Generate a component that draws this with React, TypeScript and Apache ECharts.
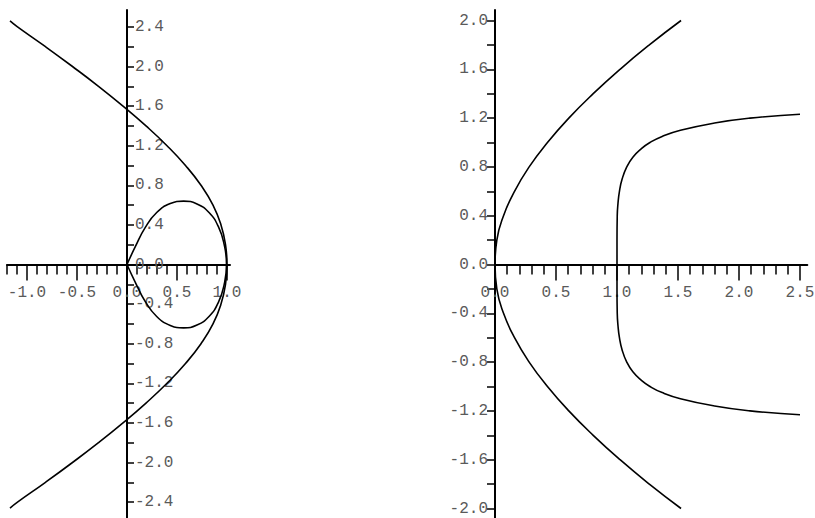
import React, { useEffect, useRef } from "react";
import * as echarts from "echarts";

// ---- Left panel: open curve through (1, 0) and the closed loop ----
const leftOuter: [number, number][] = [
  [-1.17, -2.46], [-1.095, -2.4], [-0.815, -2.2], [-0.545, -2.0], [-0.285, -1.8],
  [-0.04, -1.6], [0.19, -1.4], [0.4, -1.2], [0.585, -1.0], [0.74, -0.8],
  [0.86, -0.6], [0.94, -0.4], [0.985, -0.2], [1.0, 0.0], [0.985, 0.2],
  [0.94, 0.4], [0.86, 0.6], [0.74, 0.8], [0.585, 1.0], [0.4, 1.2],
  [0.19, 1.4], [-0.04, 1.6], [-0.285, 1.8], [-0.545, 2.0], [-0.815, 2.2],
  [-1.095, 2.4], [-1.17, 2.46],
];

const leftLoop: [number, number][] = [
  [0.0, 0.0], [0.083, 0.18], [0.183, 0.375], [0.297, 0.525], [0.433, 0.615],
  [0.566, 0.64], [0.7, 0.612], [0.82, 0.525], [0.915, 0.38], [0.972, 0.2],
  [0.995, 0.0], [0.972, -0.2], [0.915, -0.38], [0.82, -0.525], [0.7, -0.612],
  [0.566, -0.64], [0.433, -0.615], [0.297, -0.525], [0.183, -0.375], [0.083, -0.18],
  [0.0, 0.0],
];

// ---- Right panel: curve through the origin and curve through (1, 0) ----
const rightInner: [number, number][] = [
  [1.525, -2.0], [1.265, -1.8], [1.025, -1.6], [0.805, -1.4], [0.605, -1.2],
  [0.43, -1.0], [0.28, -0.8], [0.16, -0.6], [0.07, -0.4], [0.015, -0.2],
  [0.0, 0.0], [0.015, 0.2], [0.07, 0.4], [0.16, 0.6], [0.28, 0.8],
  [0.43, 1.0], [0.605, 1.2], [0.805, 1.4], [1.025, 1.6], [1.265, 1.8],
  [1.525, 2.0],
];

const rightOuter: [number, number][] = [
  [2.5, -1.232], [2.09, -1.2], [1.8, -1.16], [1.52, -1.1], [1.37, -1.05],
  [1.27, -1.0], [1.2, -0.95], [1.13, -0.88], [1.08, -0.8], [1.042, -0.7],
  [1.02, -0.6], [1.008, -0.5], [1.002, -0.4], [1.0, -0.2], [1.0, 0.0],
  [1.0, 0.2], [1.002, 0.4], [1.008, 0.5], [1.02, 0.6], [1.042, 0.7],
  [1.08, 0.8], [1.13, 0.88], [1.2, 0.95], [1.27, 1.0], [1.37, 1.05],
  [1.52, 1.1], [1.8, 1.16], [2.09, 1.2], [2.5, 1.232],
];

// ---- Tick and label positions ----
const leftXMajor = [-1.0, -0.5, 0.0, 0.5, 1.0];
const leftXMinor = [-1.2, -1.1, -0.9, -0.8, -0.7, -0.6, -0.4, -0.3, -0.2, -0.1,
  0.1, 0.2, 0.3, 0.4, 0.6, 0.7, 0.8, 0.9];
const leftYTicks = [-2.6, -2.4, -2.2, -2.0, -1.8, -1.6, -1.4, -1.2, -1.0, -0.8, -0.6,
  -0.4, -0.2, 0.0, 0.2, 0.4, 0.6, 0.8, 1.0, 1.2, 1.4, 1.6, 1.8, 2.0, 2.2, 2.4];
const leftYLabels = [-2.4, -2.0, -1.6, -1.2, -0.8, -0.4, 0.0, 0.4, 0.8, 1.2, 1.6, 2.0, 2.4];

const rightXMajor = [0.0, 0.5, 1.0, 1.5, 2.0, 2.5];
const rightXMinor = [0.1, 0.2, 0.3, 0.4, 0.6, 0.7, 0.8, 0.9, 1.1, 1.2, 1.3, 1.4,
  1.6, 1.7, 1.8, 1.9, 2.1, 2.2, 2.3, 2.4];
const rightYTicks = [-2.0, -1.8, -1.6, -1.4, -1.2, -1.0, -0.8, -0.6, -0.4, -0.2, 0.0,
  0.2, 0.4, 0.6, 0.8, 1.0, 1.2, 1.4, 1.6, 1.8, 2.0];
const rightYLabels = [-2.0, -1.6, -1.2, -0.8, -0.4, 0.0, 0.4, 0.8, 1.2, 1.6, 2.0];

// ---- Panel geometry (pixel origin and scale of each coordinate frame) ----
const L = { ox: 127, oy: 264.5, sx: 100, sy: 99, xMin: -1.2, xMax: 1.03, yMin: -2.6, yMax: 2.57 };
const R = { ox: 495, oy: 264.5, sx: 122, sy: 122, xMin: 0, xMax: 2.56, yMin: -2.08, yMax: 2.086 };

const gridOf = (p: typeof L) => ({
  left: p.ox + p.xMin * p.sx,
  top: p.oy - p.yMax * p.sy,
  width: (p.xMax - p.xMin) * p.sx,
  height: (p.yMax - p.yMin) * p.sy,
  containLabel: false,
  outerBoundsMode: "none",
});

const ink = "#000";
const labelFont = { color: "#5a5a5a", fontFamily: "Liberation Mono", fontSize: 16 };
const fmt = (v: number) => v.toFixed(1);

function xAxis(gridIndex: number, p: typeof L, ticks: number[], len: number, labels: number[] | null, line: boolean) {
  return {
    type: "value",
    gridIndex,
    min: p.xMin,
    max: p.xMax,
    position: "bottom",
    offset: p.yMin * p.sy,
    axisLine: { show: line, onZero: false, lineStyle: { color: ink, width: 2 } },
    axisTick: { show: true, customValues: ticks, length: len, lineStyle: { color: ink, width: 1.5 } },
    axisLabel: labels
      ? { show: true, customValues: labels, margin: 20, formatter: fmt, ...labelFont }
      : { show: false },
    splitLine: { show: false },
  };
}

function yAxis(gridIndex: number, p: typeof L, side: "left" | "right") {
  const isLeftPanel = side === "right";
  return {
    type: "value",
    gridIndex,
    min: p.yMin,
    max: p.yMax,
    position: side,
    offset: side === "right" ? -p.xMax * p.sx : p.xMin * p.sx,
    axisLine: { show: true, onZero: false, lineStyle: { color: ink, width: 2 } },
    axisTick: {
      show: true,
      customValues: isLeftPanel ? leftYTicks : rightYTicks,
      length: isLeftPanel ? 7 : 8,
      lineStyle: { color: ink, width: 1.5 },
    },
    axisLabel: {
      show: true,
      customValues: isLeftPanel ? leftYLabels : rightYLabels,
      margin: isLeftPanel ? 8 : 7,
      formatter: fmt,
      ...labelFont,
    },
    splitLine: { show: false },
  };
}

function curve(data: [number, number][], xAxisIndex: number, yAxisIndex: number) {
  return {
    type: "line",
    xAxisIndex,
    yAxisIndex,
    data,
    showSymbol: false,
    smooth: 0.5,
    lineStyle: { color: ink, width: 1.6 },
    z: 3,
  };
}

export default function App() {
  const ref = useRef<HTMLDivElement>(null);

  useEffect(() => {
    if (!ref.current) return;
    const chart = echarts.init(ref.current, undefined, { renderer: "svg" });
    chart.setOption({
      animation: false,
      backgroundColor: "#fff",
      grid: [gridOf(L), gridOf(R)],
      xAxis: [
        xAxis(0, L, leftXMajor, 16, leftXMajor, true),
        xAxis(0, L, leftXMinor, 10, null, false),
        xAxis(1, R, rightXMajor, 16, rightXMajor, true),
        xAxis(1, R, rightXMinor, 10, null, false),
      ],
      yAxis: [yAxis(0, L, "right"), yAxis(1, R, "left")],
      series: [
        curve(leftOuter, 0, 0),
        curve(leftLoop, 0, 0),
        curve(rightInner, 2, 1),
        curve(rightOuter, 2, 1),
      ],
    });
    return () => chart.dispose();
  }, []);

  return (
    <div
      ref={ref}
      style={{ position: "absolute", left: 0, top: 0, width: 815, height: 518 }}
    />
  );
}
